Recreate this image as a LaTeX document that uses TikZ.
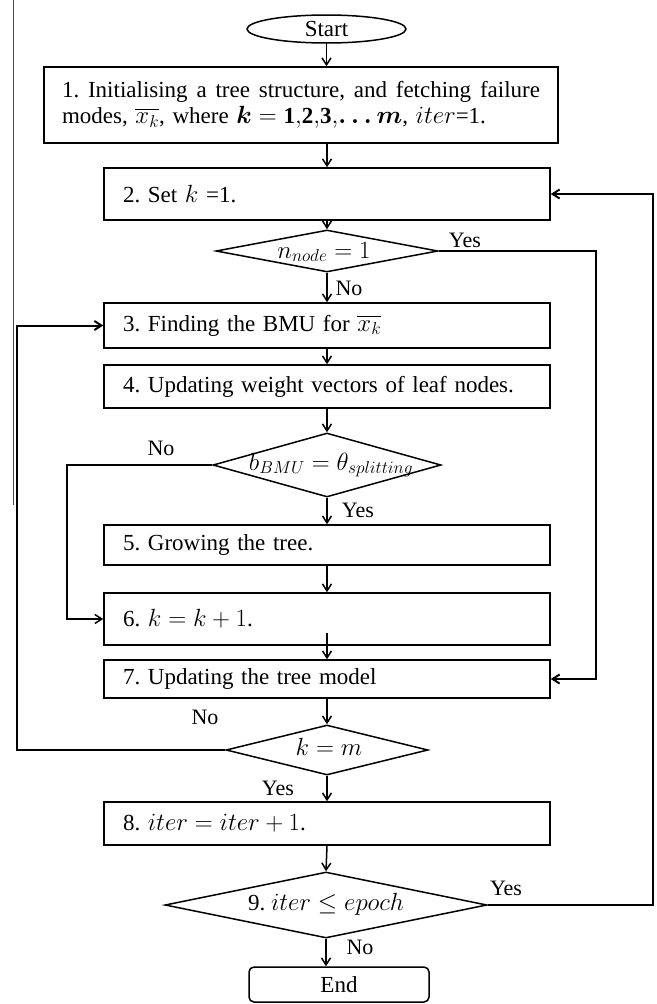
\documentclass[tikz,border=0pt]{standalone}
\usepackage{amsmath}
\usepackage{fontspec}
\setmainfont{Liberation Serif}
\usetikzlibrary{shapes.geometric,arrows.meta}
\begin{document}
\begin{tikzpicture}[x=1pt,y=-1pt,
  line width=1.5pt,
  txt/.style={font=\fontsize{23}{26}\selectfont\frenchspacing},
  box/.style={txt, draw, rectangle, minimum width=446pt, text width=408pt, inner xsep=19pt, inner ysep=0pt, align=left},
  dia/.style={draw, diamond, inner sep=0pt},
  arr/.style={-{Straight Barb[length=7pt,width=9pt]}},
  loopline/.style={arr, line width=2pt},
  lab/.style={font=\fontsize{22}{24}\selectfont, inner sep=0pt}]
\useasboundingbox (0,0) rectangle (656,1004);
% scan border line
\coordinate (s1) at (13,0);
\coordinate (s2) at (13,505);
\draw[line width=0.8pt, black!70] (s1) -- (s2);

\node[txt, draw, ellipse, minimum width=159pt, minimum height=28pt, inner sep=0pt] (start) at (326.5,29) {Start};
\node[txt, draw, minimum width=514pt, minimum height=76pt, text width=478pt, inner xsep=18pt, inner ysep=0pt, align=left] (b1) at (301,105)
  {\makebox[478pt][s]{\spaceskip=0pt\relax 1. Initialising a tree structure, and fetching failure}\\
   modes, $\overline{x_k}$, where $\boldsymbol{k} = \mathbf{1{,}2{,}3{,}}\boldsymbol{\ldots m}$, $iter$=1.};
\node[box, minimum height=52pt] (b2) at (327,194) {2. Set $k$ =1.};
\node[dia, minimum width=222pt, minimum height=42pt] (d1) at (327,251) {};
\node[txt, inner sep=0pt] (t1) at (324,252) {$n_{node} = 1$};
\node[box, minimum height=45pt] (b3) at (327,325.5) {3. Finding the BMU for $\overline{x_k}$};
\node[box, minimum height=43pt] (b4) at (327,386.5) {4. Updating weight vectors of leaf nodes.};
\node[dia, minimum width=228pt, minimum height=64pt] (d2) at (327,465) {};
\node[txt, inner sep=0pt] (t2) at (331,465) {$b_{BMU} = \theta_{splitting}$};
\node[box, minimum height=40pt] (b5) at (327,545) {5. Growing the tree.};
\node[box, minimum height=52pt] (b6) at (327,619) {6. $k = k + 1$.};
\node[box, minimum height=38pt] (b7) at (327,679) {7. Updating the tree model};
\node[dia, minimum width=202pt, minimum height=50pt] (d3) at (327,750) {};
\node[txt, inner sep=0pt] (t3) at (329,747) {$k = m$};
\node[box, minimum height=43pt] (b8) at (327,823.5) {8. $iter = iter + 1$.};
\node[dia, minimum width=322pt, minimum height=66pt] (d4) at (326,905) {};
\node[txt, inner sep=0pt] (t4) at (326,904) {9. $iter \le epoch$};
\node[txt, draw, rounded corners=5pt, minimum width=180pt, minimum height=35pt, inner sep=0pt] (end) at (339,984.5) {End};

% labels
\node[lab] (y1) at (465,240) {Yes};
\node[lab] (n1) at (349,288) {No};
\node[lab] (n2) at (161,448) {No};
\node[lab] (y2) at (358,510) {Yes};
\node[lab] (n3) at (205,717) {No};
\node[lab] (y3) at (278,788) {Yes};
\node[lab] (y4) at (506,888) {Yes};
\node[lab] (n4) at (360,947) {No};

% main flow
\draw[arr] (start.south) -- (start.south |- b1.north);
\draw[arr] (b2.north |- b1.south) -- (b2.north);
\draw[arr] (b2.south) -- (d1.north);
\draw[arr] (d1.south) -- (b3.north);
\draw[arr] (b3.south) -- (b4.north);
\draw[arr] (b4.south) -- (d2.north);
\draw[arr] (d2.south) -- (b5.north);
\draw[arr] (b5.south) -- (b6.north);
\draw[arr] ([yshift=13pt]b6.south) -- (b7.north);
\draw[arr] (b7.south) -- (d3.north);
\draw[arr] (d3.south) -- (b8.north);
\draw[arr] (b8.south) -- (d4.north);
\draw[arr] (d4.south) -- (d4.south |- end.north);

% loops
\coordinate (xr1) at (596,0);
\coordinate (xl2) at (67,0);
\coordinate (xl3) at (17,0);
\coordinate (xr4) at (653,0);
\draw[loopline] (d1.east) -- (d1.east -| xr1) |- (b7.east);
\draw[arr] (d2.west) -- (d2.west -| xl2) |- (b6.west);
\draw[loopline] (d3.west) -- (d3.west -| xl3) |- (b3.west);
\draw[loopline] (d4.east) -- (d4.east -| xr4) |- (b2.east);
\end{tikzpicture}
\end{document}
